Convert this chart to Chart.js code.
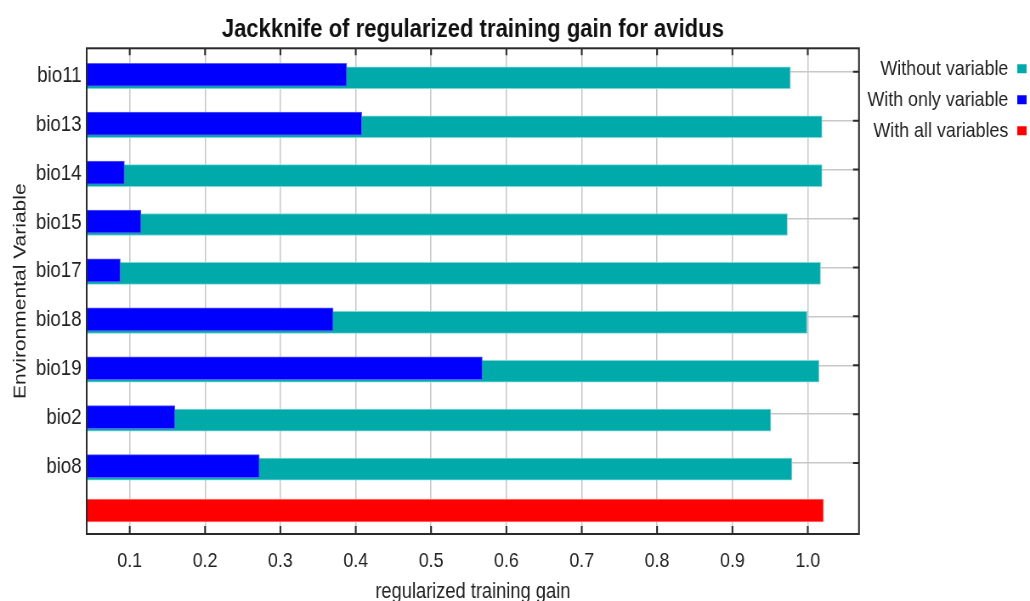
<!DOCTYPE html>
<html>
<head>
<meta charset="utf-8">
<title>Jackknife of regularized training gain for avidus</title>
<script src="https://cdn.jsdelivr.net/npm/chart.js@4.4.1/dist/chart.umd.min.js"></script>
<style>
  html, body { margin: 0; padding: 0; background: #fff; }
  #wrap { width: 1030px; height: 601px; overflow: hidden; }
  /* drawn wider and squeezed back to 1030px, which gives the narrow lettering */
  #jackknife { width: 1030px; height: 601px; display: block; }
</style>
</head>
<body>
<div id="wrap"><canvas id="jackknife" width="1212" height="601" style="width:1030px;height:601px"></canvas></div>
<script>
const variables = ["bio11", "bio13", "bio14", "bio15", "bio17", "bio18", "bio19", "bio2", "bio8"];
const withoutVariable = [0.977, 1.019, 1.019, 0.973, 1.017, 0.999, 1.015, 0.951, 0.979];
const withOnlyVariable = [0.388, 0.408, 0.093, 0.115, 0.0875, 0.370, 0.568, 0.160, 0.272];
const withAllVariables = 1.021;
const gainTicks = [0.1, 0.2, 0.3, 0.4, 0.5, 0.6, 0.7, 0.8, 0.9, 1.0];

const FONT = "'Liberation Sans', Arial, sans-serif";
const TEAL = "#00aaaa";
const BLUE = "#0000ff";
const RED = "#ff0000";

// the two bars of a variable sit slightly below its grid line, blue a bit higher than teal
const tealShift = 0.123;
const blueShift = 0.061;
const allShift = -0.03;

// black frame with short inward tick marks
const framePlugin = {
  id: "frame",
  afterDatasetsDraw(chart) {
    const { ctx, chartArea: a, scales: { x, y } } = chart;
    ctx.save();
    ctx.strokeStyle = "#2a2a2a";
    ctx.lineWidth = 2;
    ctx.beginPath();
    x.ticks.forEach(t => {
      const px = x.getPixelForValue(t.value);
      ctx.moveTo(px, a.top); ctx.lineTo(px, a.top + 7);
      ctx.moveTo(px, a.bottom); ctx.lineTo(px, a.bottom - 8);
    });
    y.ticks.forEach(t => {
      const py = y.getPixelForValue(t.value);
      ctx.moveTo(a.right, py); ctx.lineTo(a.right - 7, py);
    });
    ctx.stroke();
    ctx.strokeRect(a.left, a.top, a.right - a.left, a.bottom - a.top);
    ctx.restore();
  }
};

const chart = new Chart(document.getElementById("jackknife"), {
  type: "bar",
  data: {
    datasets: [
      {
        label: "Without variable",
        order: 1,
        backgroundColor: TEAL,
        borderColor: "#7fd6d6",
        borderWidth: 1,
        barThickness: 22,
        data: variables.map((v, i) => ({ x: withoutVariable[i], y: i + tealShift })),
      },
      {
        label: "With only variable",
        order: 0,
        backgroundColor: BLUE,
        borderColor: "#5a5aff",
        borderWidth: 1,
        barThickness: 23,
        data: variables.map((v, i) => ({ x: withOnlyVariable[i], y: i + blueShift })),
      },
      {
        label: "With all variables",
        order: 2,
        backgroundColor: RED,
        borderColor: "#ff7a7a",
        borderWidth: 1,
        barThickness: 23,
        data: [{ x: withAllVariables, y: variables.length + allShift }],
      },
    ],
  },
  options: {
    indexAxis: "y",
    responsive: false,
    animation: false,
    grouped: false,
    layout: { padding: { top: 0, left: 0, bottom: 0, right: -6 } },
    plugins: {
      tooltip: { enabled: false },
      title: {
        display: true,
        fullSize: false,
        text: "Jackknife of regularized training gain for avidus",
        color: "#111",
        font: { family: FONT, size: 26, weight: "bold", lineHeight: 1.2 },
        padding: { top: 14.4, bottom: 2.7 },
      },
      legend: {
        display: true,
        position: "right",
        align: "start",
        fullSize: false,
        rtl: true,
        labels: {
          color: "#222",
          font: { family: FONT, size: 21, lineHeight: 1 },
          boxWidth: 11,
          boxHeight: 9,
          padding: 10,
          sort: (a, b) => a.datasetIndex - b.datasetIndex,
          generateLabels: c =>
            Chart.defaults.plugins.legend.labels.generateLabels(c).map(l => ({ ...l, lineWidth: 0 })),
        },
      },
    },
    scales: {
      x: {
        type: "linear",
        position: "bottom",
        min: 0.0429,
        max: 1.068,
        afterBuildTicks: s => { s.ticks = gainTicks.map(v => ({ value: v })); },
        afterFit: s => { s.height = 67; },
        grid: { color: "#c8c8c8", lineWidth: 1.5, drawTicks: false },
        border: { display: false },
        ticks: {
          color: "#222",
          padding: 15,
          maxRotation: 0,
          font: { family: FONT, size: 21 },
          callback: v => v.toFixed(1),
        },
        title: {
          display: true,
          text: "regularized training gain",
          color: "#222",
          font: { family: FONT, size: 21.5, lineHeight: 1 },
          padding: { top: 0, bottom: -2 },
        },
      },
      y: {
        type: "linear",
        position: "left",
        reverse: true,
        offset: false,
        min: -0.48,
        max: 9.45,
        afterBuildTicks: s => { s.ticks = variables.map((v, i) => ({ value: i })); },
        afterFit: s => { s.width = 102; },
        grid: { color: "#c8c8c8", lineWidth: 1.5, drawTicks: false, offset: false },
        border: { display: false },
        ticks: {
          color: "#222",
          padding: 6,
          labelOffset: 4,
          font: { family: FONT, size: 22 },
          callback: v => variables[v],
        },
        title: {
          display: true,
          text: "Environmental Variable",
          color: "#222",
          font: { family: FONT, size: 21, lineHeight: 1 },
          padding: { top: 14, bottom: 0 },
        },
      },
    },
  },
  plugins: [framePlugin],
});
</script>
</body>
</html>
